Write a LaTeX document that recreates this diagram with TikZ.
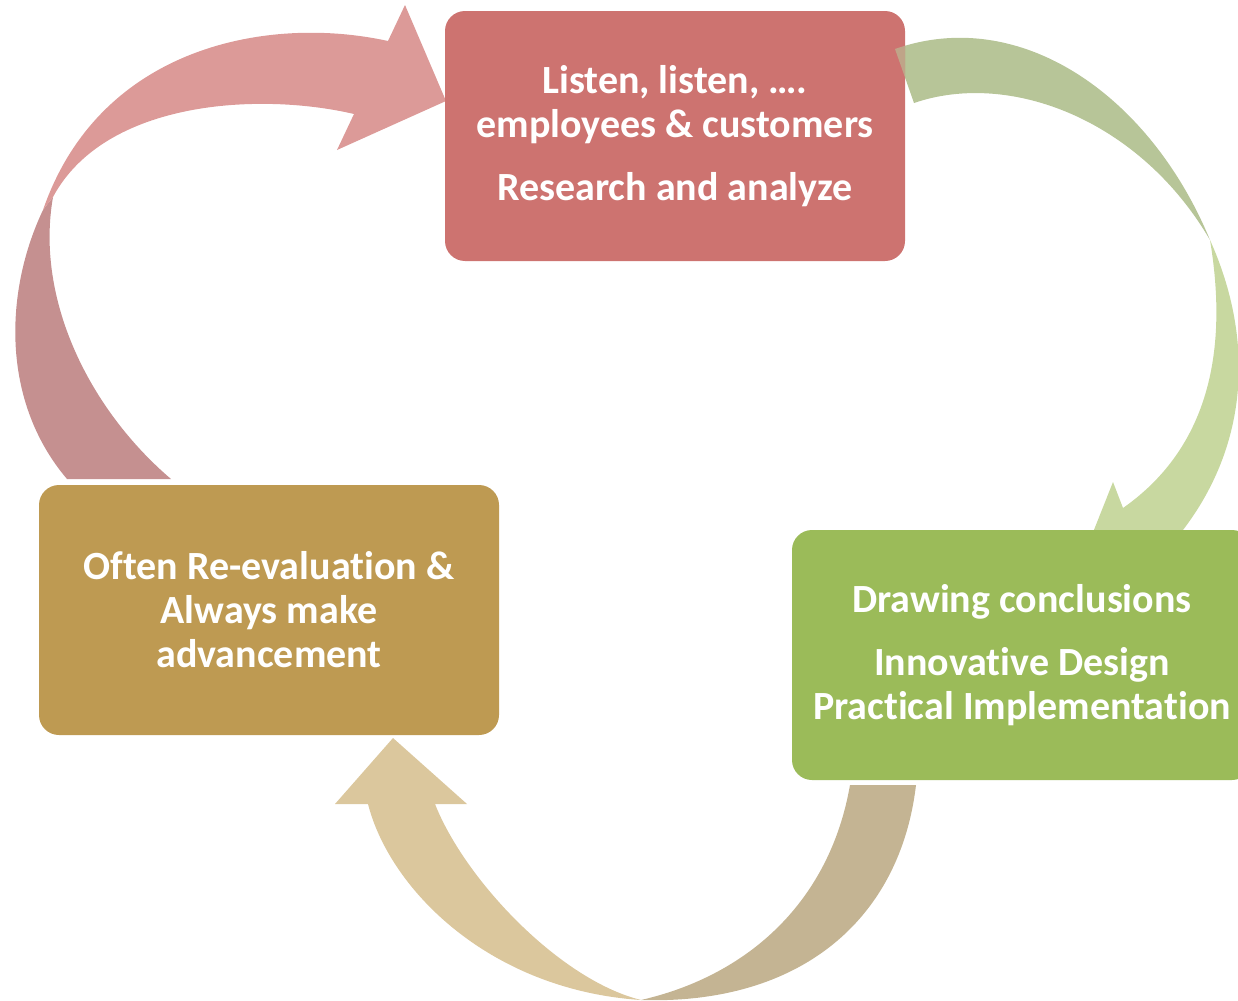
\documentclass[tikz,border=0pt]{standalone}
\usepackage{fontspec}
\setmainfont{Carlito}[Ligatures=NoCommon]
% keeps "t" and "i" as separate glyphs
\newcommand{\tisep}{t\kern0pt i}
\definecolor{pinkA}{RGB}{220,154,152}
\definecolor{pinkB}{RGB}{197,144,144}
\definecolor{greenA}{RGB}{183,197,152}
\definecolor{greenB}{RGB}{200,216,160}
\definecolor{tanA}{RGB}{219,199,157}
\definecolor{tanB}{RGB}{196,180,147}
\definecolor{boxred}{RGB}{205,115,112}
\definecolor{boxgold}{RGB}{190,154,82}
\definecolor{boxgreen}{RGB}{155,187,89}
\begin{document}
\begin{tikzpicture}[x=0.5pt,y=-0.5pt,
  stage/.style={rectangle, rounded corners=10pt, minimum width=230pt,
    minimum height=125pt, inner sep=0pt, align=center, text=white,
    font=\bfseries\fontsize{20}{22}\selectfont}]
\useasboundingbox (0,0) rectangle (1238,1001);

% curved arrow: re-evaluation -> listen (twisted band, two faces)
\fill[pinkB] (67,479) .. controls (0,400) and (5,290) .. (43,210)
  -- (53,197) .. controls (35,300) and (90,410) .. (171,479) -- cycle;
\fill[pinkA] (43,210) .. controls (100,45) and (270,15) .. (388,41)
  -- (405,5) -- (446,101) -- (337,150) -- (354,114)
  .. controls (260,92) and (105,100) .. (53,197) -- cycle;

% curved arrow: listen -> conclusions
\fill[greenA] (895,49) .. controls (1020,5) and (1150,95) .. (1210,240)
  .. controls (1140,120) and (1010,70) .. (914,103) -- cycle;
\fill[greenB] (1210,240) .. controls (1255,340) and (1250,450) .. (1175,540)
  -- (1190,560) -- (1082,560) -- (1113,482) -- (1123,508)
  .. controls (1220,440) and (1225,330) .. (1210,240) -- cycle;

% curved arrow: conclusions -> re-evaluation
\fill[tanB] (850,785) -- (916,785) .. controls (900,920) and (800,1005) .. (641,1000)
  .. controls (750,975) and (830,900) .. (850,785) -- cycle;
\fill[tanA] (641,1000) .. controls (490,990) and (390,890) .. (368,804)
  -- (335,804) -- (393,738) -- (467,804) -- (435,804)
  .. controls (465,880) and (560,980) .. (641,1000) -- cycle;

% stages
\node[stage, fill=boxred] (listen) at (675,136)
  {Listen, listen, ….\\ employees \& customers\\[9.5pt] Research and analyze};
\node[stage, fill=boxgold] (often) at (269,610)
  {Often Re-evalua\tisep on \&\\ Always make\\ advancement};
\node[stage, fill=boxgreen] (drawing) at (1022,655)
  {Drawing conclusions\\[9.5pt] Innova\tisep ve Design\\ Prac\tisep cal Implementa\tisep on};

% arrow tail showing through the edge of the first stage
\begin{scope}
  \clip (listen.north west) rectangle (listen.south east);
  \fill[greenA, fill opacity=0.6] (895,49) .. controls (1020,5) and (1150,95) .. (1210,240)
    .. controls (1140,120) and (1010,70) .. (914,103) -- cycle;
\end{scope}
\end{tikzpicture}
\end{document}
